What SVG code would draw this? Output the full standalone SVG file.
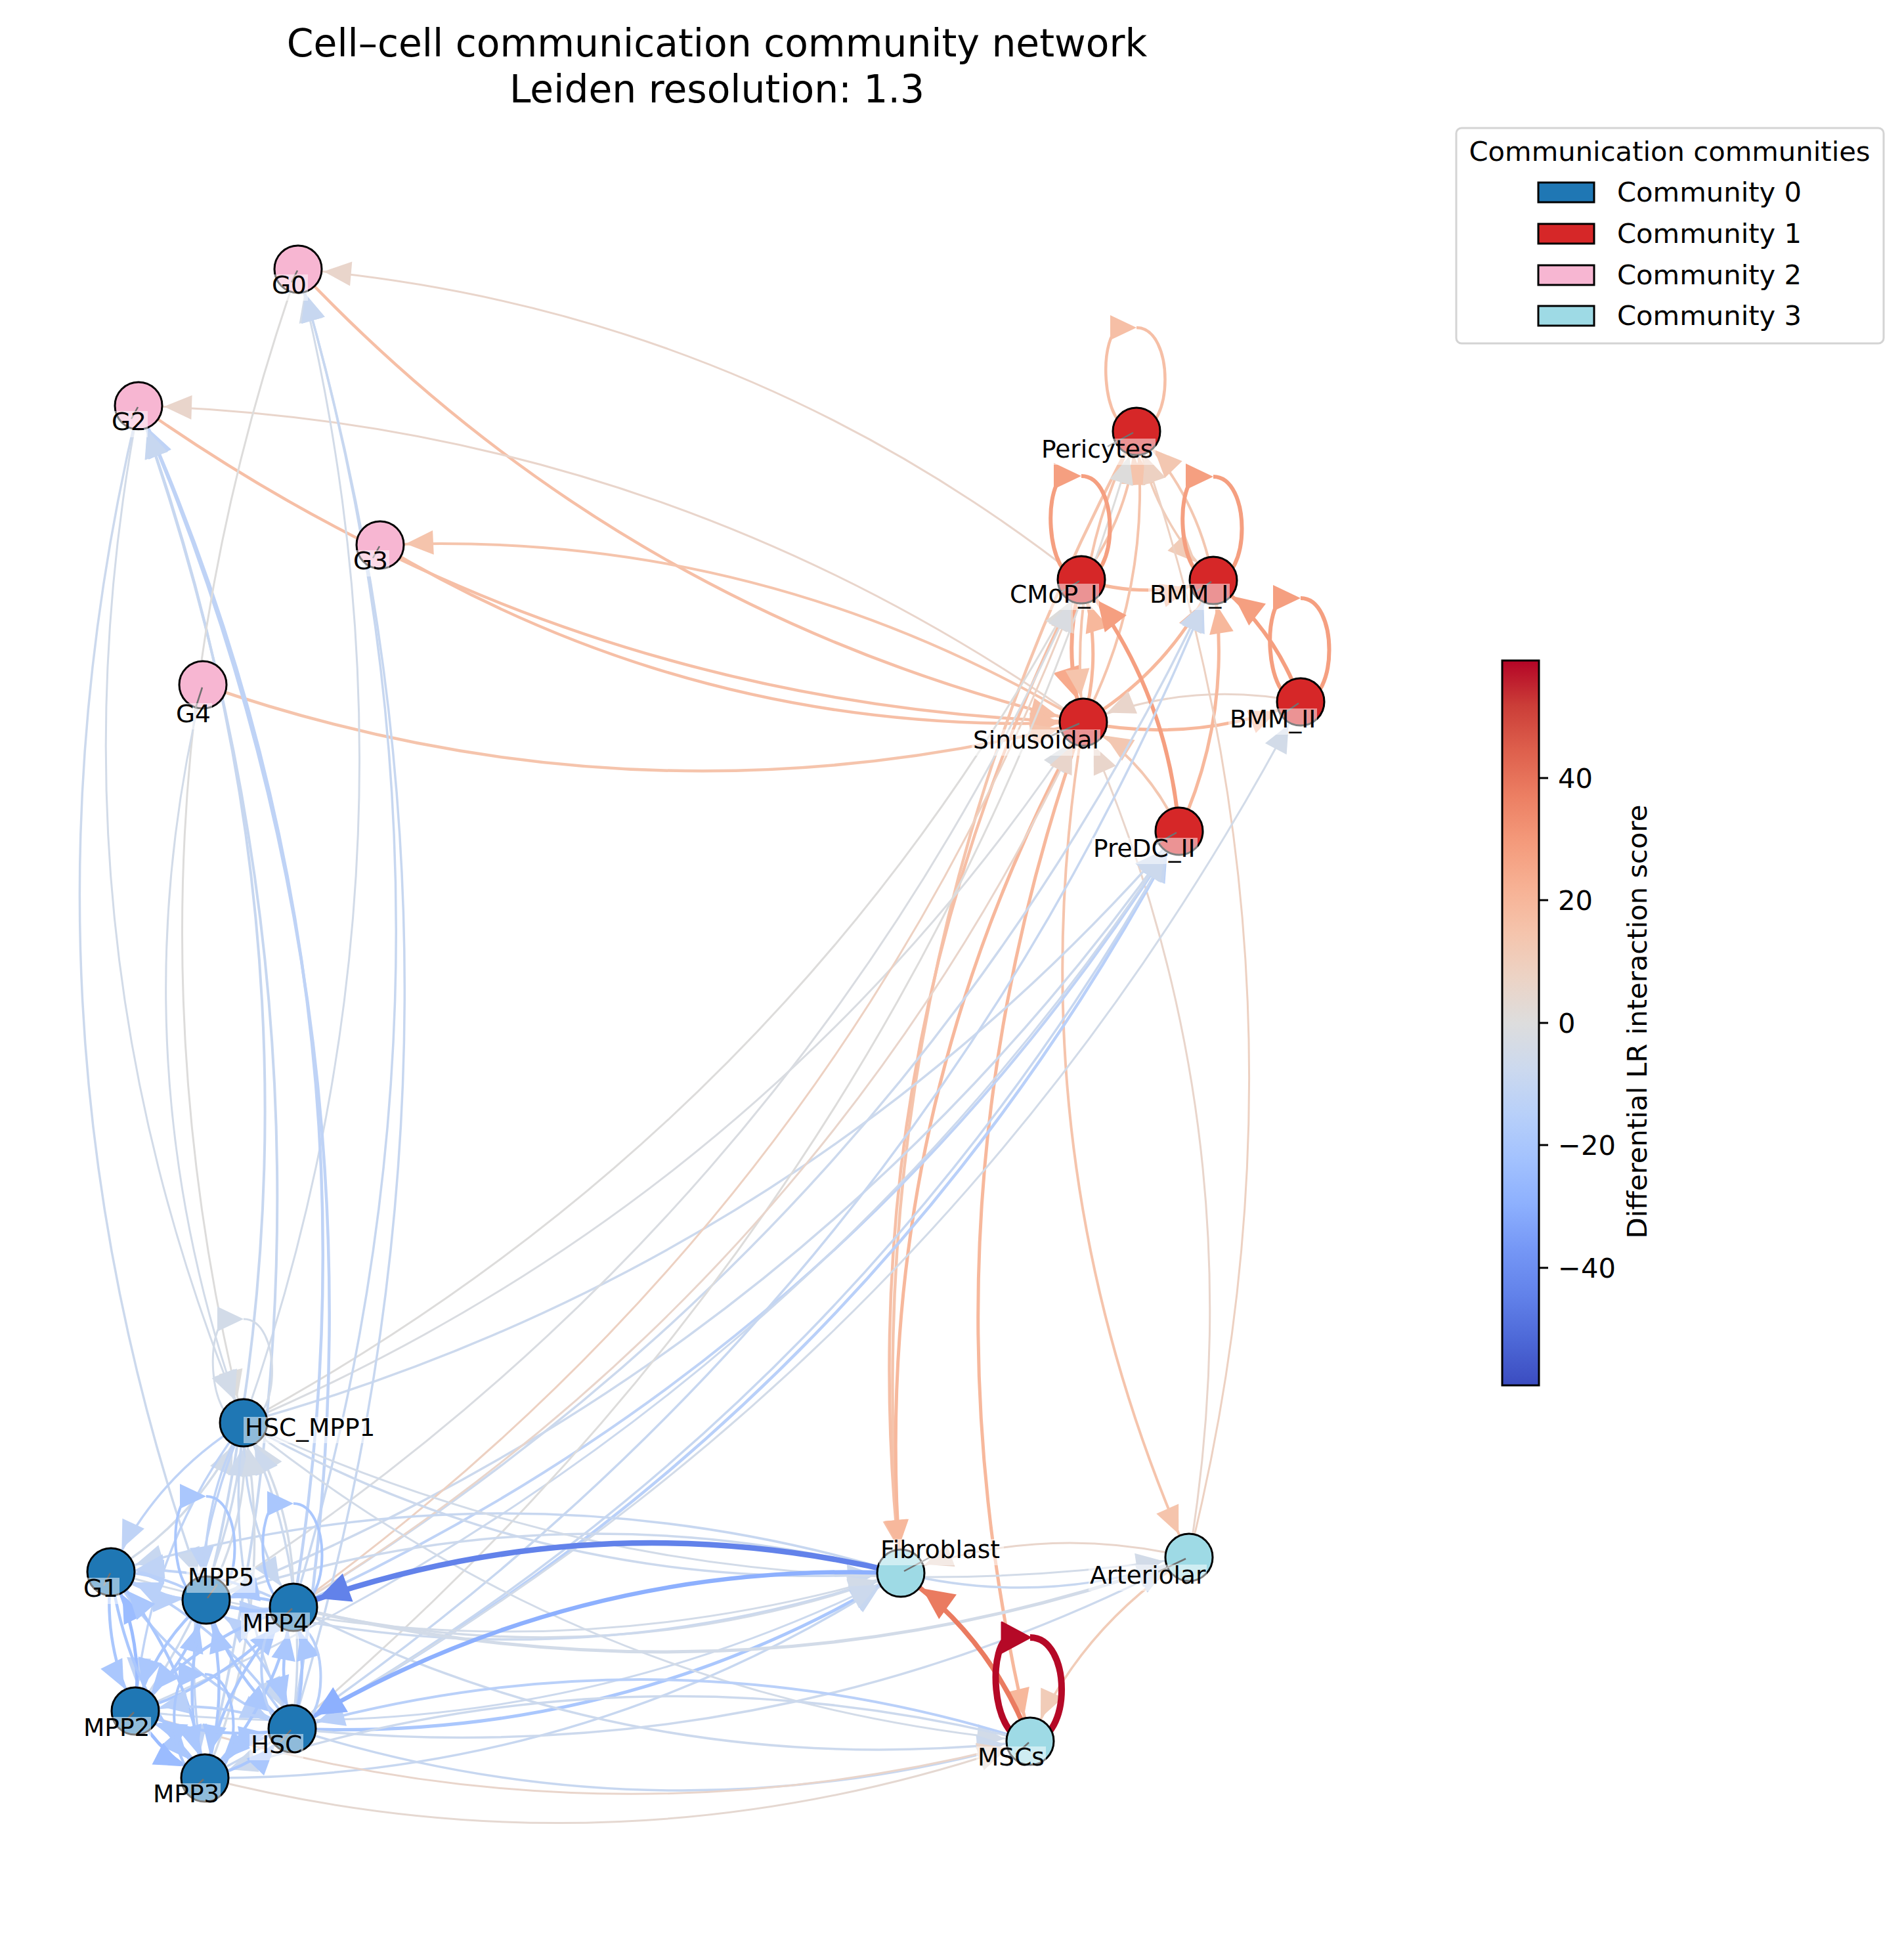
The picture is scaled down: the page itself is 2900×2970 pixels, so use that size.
<svg xmlns="http://www.w3.org/2000/svg" width="2900" height="2970" viewBox="0 0 2900 2970">
<style>
text{font-family:"DejaVu Sans","Liberation Sans",sans-serif;fill:#000}
.lb{font-size:37.5px}
.e{fill:none}
.nd{stroke:#000;stroke-width:3}
.c0{fill:#1f77b4}.c1{fill:#d62728}.c2{fill:#f7b6d2}.c3{fill:#9edae5}
.bb{fill:#fff;fill-opacity:0.5}
.ld{stroke:#707070;stroke-width:2.5}
.n45{stroke:#6282ea;marker-end:url(#mn45)}
.n30{stroke:#8db0fe;marker-end:url(#mn30)}
.n25{stroke:#9bbcff;marker-end:url(#mn25)}
.n20{stroke:#aac7fd;marker-end:url(#mn20)}
.n15{stroke:#b9d0f9;marker-end:url(#mn15)}
.n12{stroke:#bfd3f6;marker-end:url(#mn12)}
.n10{stroke:#c7d7f0;marker-end:url(#mn10)}
.n8{stroke:#ccd9ed;marker-end:url(#mn8)}
.n5{stroke:#d2dbe8;marker-end:url(#mn5)}
.n2{stroke:#d9dce1;marker-end:url(#mn2)}
.z0{stroke:#dddcdb;marker-end:url(#mz0)}
.p3{stroke:#e5d8d1;marker-end:url(#mp3)}
.p5{stroke:#e9d5cb;marker-end:url(#mp5)}
.p8{stroke:#edd1c2;marker-end:url(#mp8)}
.p10{stroke:#f1ccb8;marker-end:url(#mp10)}
.p12{stroke:#f3c7b1;marker-end:url(#mp12)}
.p15{stroke:#f5c4ac;marker-end:url(#mp15)}
.p17{stroke:#f6bfa6;marker-end:url(#mp17)}
.p20{stroke:#f7b89c;marker-end:url(#mp20)}
.p25{stroke:#f7aa8c;marker-end:url(#mp25)}
.p28{stroke:#f59f80;marker-end:url(#mp28)}
.p38{stroke:#ea7b60;marker-end:url(#mp38)}
.lp{fill:none}
</style>
<defs>
<marker id="mn45" markerUnits="userSpaceOnUse" markerWidth="120" markerHeight="60" refX="110" refY="30" orient="auto"><path d="M70,30 L22,7 L22,53 Z" fill="#6282ea"/></marker>
<marker id="mn30" markerUnits="userSpaceOnUse" markerWidth="120" markerHeight="60" refX="110" refY="30" orient="auto"><path d="M70,30 L24,8 L24,52 Z" fill="#8db0fe"/></marker>
<marker id="mn25" markerUnits="userSpaceOnUse" markerWidth="120" markerHeight="60" refX="110" refY="30" orient="auto"><path d="M71,30 L29,11.5 L29,48.5 Z" fill="#9bbcff"/></marker>
<marker id="mn20" markerUnits="userSpaceOnUse" markerWidth="120" markerHeight="60" refX="110" refY="30" orient="auto"><path d="M71,30 L29,11.5 L29,48.5 Z" fill="#aac7fd"/></marker>
<marker id="mn15" markerUnits="userSpaceOnUse" markerWidth="120" markerHeight="60" refX="110" refY="30" orient="auto"><path d="M71,30 L29,11.5 L29,48.5 Z" fill="#b9d0f9"/></marker>
<marker id="mn12" markerUnits="userSpaceOnUse" markerWidth="120" markerHeight="60" refX="110" refY="30" orient="auto"><path d="M71,30 L29,11.5 L29,48.5 Z" fill="#bfd3f6"/></marker>
<marker id="mn10" markerUnits="userSpaceOnUse" markerWidth="120" markerHeight="60" refX="110" refY="30" orient="auto"><path d="M71,30 L29,11.5 L29,48.5 Z" fill="#c7d7f0"/></marker>
<marker id="mn8" markerUnits="userSpaceOnUse" markerWidth="120" markerHeight="60" refX="110" refY="30" orient="auto"><path d="M71,30 L29,11.5 L29,48.5 Z" fill="#ccd9ed"/></marker>
<marker id="mn5" markerUnits="userSpaceOnUse" markerWidth="120" markerHeight="60" refX="110" refY="30" orient="auto"><path d="M71,30 L29,11.5 L29,48.5 Z" fill="#d2dbe8"/></marker>
<marker id="mn2" markerUnits="userSpaceOnUse" markerWidth="120" markerHeight="60" refX="110" refY="30" orient="auto"><path d="M71,30 L29,11.5 L29,48.5 Z" fill="#d9dce1"/></marker>
<marker id="mz0" markerUnits="userSpaceOnUse" markerWidth="120" markerHeight="60" refX="110" refY="30" orient="auto"><path d="M71,30 L29,11.5 L29,48.5 Z" fill="#dddcdb"/></marker>
<marker id="mp3" markerUnits="userSpaceOnUse" markerWidth="120" markerHeight="60" refX="110" refY="30" orient="auto"><path d="M71,30 L29,11.5 L29,48.5 Z" fill="#e5d8d1"/></marker>
<marker id="mp5" markerUnits="userSpaceOnUse" markerWidth="120" markerHeight="60" refX="110" refY="30" orient="auto"><path d="M71,30 L29,11.5 L29,48.5 Z" fill="#e9d5cb"/></marker>
<marker id="mp8" markerUnits="userSpaceOnUse" markerWidth="120" markerHeight="60" refX="110" refY="30" orient="auto"><path d="M71,30 L29,11.5 L29,48.5 Z" fill="#edd1c2"/></marker>
<marker id="mp10" markerUnits="userSpaceOnUse" markerWidth="120" markerHeight="60" refX="110" refY="30" orient="auto"><path d="M71,30 L29,11.5 L29,48.5 Z" fill="#f1ccb8"/></marker>
<marker id="mp12" markerUnits="userSpaceOnUse" markerWidth="120" markerHeight="60" refX="110" refY="30" orient="auto"><path d="M71,30 L29,11.5 L29,48.5 Z" fill="#f3c7b1"/></marker>
<marker id="mp15" markerUnits="userSpaceOnUse" markerWidth="120" markerHeight="60" refX="110" refY="30" orient="auto"><path d="M71,30 L29,11.5 L29,48.5 Z" fill="#f5c4ac"/></marker>
<marker id="mp17" markerUnits="userSpaceOnUse" markerWidth="120" markerHeight="60" refX="110" refY="30" orient="auto"><path d="M71,30 L29,11.5 L29,48.5 Z" fill="#f6bfa6"/></marker>
<marker id="mp20" markerUnits="userSpaceOnUse" markerWidth="120" markerHeight="60" refX="110" refY="30" orient="auto"><path d="M71,30 L29,11.5 L29,48.5 Z" fill="#f7b89c"/></marker>
<marker id="mp25" markerUnits="userSpaceOnUse" markerWidth="120" markerHeight="60" refX="110" refY="30" orient="auto"><path d="M70,30 L25,9 L25,51 Z" fill="#f7aa8c"/></marker>
<marker id="mp28" markerUnits="userSpaceOnUse" markerWidth="120" markerHeight="60" refX="110" refY="30" orient="auto"><path d="M70,30 L25,9 L25,51 Z" fill="#f59f80"/></marker>
<marker id="mp38" markerUnits="userSpaceOnUse" markerWidth="120" markerHeight="60" refX="110" refY="30" orient="auto"><path d="M70,30 L22,7 L22,53 Z" fill="#ea7b60"/></marker>
<linearGradient id="cb" x1="0" y1="1" x2="0" y2="0">
<stop offset="0" stop-color="#3b4cc0"/><stop offset="0.0625" stop-color="#4d68d7"/><stop offset="0.125" stop-color="#6282ea"/><stop offset="0.1875" stop-color="#7597f6"/><stop offset="0.25" stop-color="#8db0fe"/><stop offset="0.3125" stop-color="#a3c2fe"/><stop offset="0.375" stop-color="#b8d0f9"/><stop offset="0.4375" stop-color="#ccd9ee"/><stop offset="0.5" stop-color="#dddddd"/><stop offset="0.5625" stop-color="#ecd3c5"/><stop offset="0.625" stop-color="#f5c4ac"/><stop offset="0.6875" stop-color="#f7b194"/><stop offset="0.75" stop-color="#f49a7b"/><stop offset="0.8125" stop-color="#ec7f63"/><stop offset="0.875" stop-color="#de604d"/><stop offset="0.9375" stop-color="#cb3e38"/><stop offset="1" stop-color="#b40426"/>
</linearGradient>
</defs>
<rect x="0" y="0" width="2900" height="2970" fill="#fff"/>
<g id="title">
<text x="1092" y="86" font-size="58.3" text-anchor="middle">Cell–cell communication community network</text>
<text x="1092" y="156" font-size="58.3" text-anchor="middle">Leiden resolution: 1.3</text>
</g>
<g id="edges">
<path class="e p5" stroke-width="3" d="M1647,883 Q1121,468 454,410"/>
<path class="e p17" stroke-width="4.5" d="M454,410 Q949,934 1650,1100"/>
<path class="e p5" stroke-width="3" d="M1650,1100 Q1003,643 211,618"/>
<path class="e p17" stroke-width="4.5" d="M211,618 Q858,1075 1650,1100"/>
<path class="e p15" stroke-width="4" d="M1650,1100 Q1155,804 579,830"/>
<path class="e p17" stroke-width="4.5" d="M579,830 Q1074,1126 1650,1100"/>
<path class="e p15" stroke-width="4.5" d="M309,1043 Q971,1273 1650,1100"/>
<path class="e p20" stroke-width="5" d="M1647,883 Q1747,914 1848,884"/>
<path class="e p25" stroke-width="6" d="M1647,883 Q1616,992 1650,1100"/>
<path class="e p20" stroke-width="5" d="M1650,1100 Q1681,991 1647,883"/>
<path class="e p15" stroke-width="4" d="M1650,1100 Q1757,891 1731,657"/>
<path class="e p15" stroke-width="4" d="M1731,657 Q1624,866 1650,1100"/>
<path class="e p15" stroke-width="4" d="M1647,883 Q1723,783 1731,657"/>
<path class="e p12" stroke-width="4" d="M1848,884 Q1824,753 1731,657"/>
<path class="e p10" stroke-width="3.5" d="M1731,657 Q1755,788 1848,884"/>
<path class="e p20" stroke-width="5" d="M1650,1100 Q1781,1022 1848,884"/>
<path class="e p5" stroke-width="3" d="M1981,1069 Q1811,1035 1650,1100"/>
<path class="e p20" stroke-width="5" d="M1650,1100 Q1820,1134 1981,1069"/>
<path class="e p28" stroke-width="6" d="M1981,1069 Q1942,957 1848,884"/>
<path class="e p20" stroke-width="5" d="M1796,1266 Q1879,1083 1848,884"/>
<path class="e p28" stroke-width="6" d="M1796,1266 Q1779,1052 1647,883"/>
<path class="e p12" stroke-width="4" d="M1796,1266 Q1748,1161 1650,1100"/>
<path class="e p15" stroke-width="4.5" d="M1731,657 Q1291,1473 1372,2396"/>
<path class="e p17" stroke-width="4.5" d="M1647,883 Q1283,1598 1372,2396"/>
<path class="e p20" stroke-width="5" d="M1650,1100 Q1317,1706 1372,2396"/>
<path class="e p20" stroke-width="5" d="M1650,1100 Q1377,1864 1569,2652"/>
<path class="e p15" stroke-width="4" d="M1650,1100 Q1540,1760 1811,2372"/>
<path class="e p8" stroke-width="3" d="M1811,2372 Q2028,1503 1731,657"/>
<path class="e p5" stroke-width="3" d="M1811,2372 Q1921,1712 1650,1100"/>
<path class="e n2" stroke-width="3" d="M371,2167 Q1171,1825 1650,1100"/>
<path class="e z0" stroke-width="3" d="M371,2167 Q1202,1716 1647,883"/>
<path class="e n8" stroke-width="3.5" d="M371,2167 Q1219,1930 1796,1266"/>
<path class="e n12" stroke-width="4" d="M447,2448 Q1299,2059 1796,1266"/>
<path class="e n15" stroke-width="4.5" d="M445,2633 Q1326,2152 1796,1266"/>
<path class="e n8" stroke-width="3.5" d="M314,2437 Q1231,2074 1796,1266"/>
<path class="e n10" stroke-width="3.5" d="M312,2708 Q1270,2210 1796,1266"/>
<path class="e n8" stroke-width="3" d="M206,2606 Q1202,2175 1796,1266"/>
<path class="e n10" stroke-width="3.5" d="M445,2633 Q1409,1969 1848,884"/>
<path class="e n8" stroke-width="3.5" d="M447,2448 Q1382,1876 1848,884"/>
<path class="e n5" stroke-width="3" d="M445,2633 Q1448,2081 1981,1069"/>
<path class="e z0" stroke-width="3" d="M445,2633 Q1384,1838 1731,657"/>
<path class="e p8" stroke-width="3" d="M447,2448 Q1282,1846 1647,883"/>
<path class="e p5" stroke-width="3" d="M447,2448 Q1251,1954 1650,1100"/>
<path class="e n2" stroke-width="3" d="M314,2437 Q1214,1860 1647,883"/>
<path class="e n5" stroke-width="3" d="M371,2167 Q676,1301 454,410"/>
<path class="e n10" stroke-width="3.5" d="M447,2448 Q756,1430 454,410"/>
<path class="e n10" stroke-width="3.5" d="M445,2633 Q783,1523 454,410"/>
<path class="e n10" stroke-width="4" d="M314,2437 Q535,1512 211,618"/>
<path class="e n12" stroke-width="4.5" d="M447,2448 Q604,1498 211,618"/>
<path class="e n12" stroke-width="4.5" d="M445,2633 Q630,1590 211,618"/>
<path class="e n10" stroke-width="4" d="M312,2708 Q575,1648 211,618"/>
<path class="e z0" stroke-width="3" d="M454,410 Q149,1276 371,2167"/>
<path class="e n5" stroke-width="3" d="M211,618 Q59,1417 371,2167"/>
<path class="e n8" stroke-width="3.5" d="M211,618 Q-10,1543 314,2437"/>
<path class="e n5" stroke-width="3" d="M309,1043 Q171,1614 371,2167"/>
<path class="e n5" stroke-width="3.5" d="M447,2448 Q917,2561 1372,2396"/>
<path class="e n20" stroke-width="5" d="M445,2633 Q944,2654 1372,2396"/>
<path class="e n8" stroke-width="3.5" d="M371,2167 Q837,2432 1372,2396"/>
<path class="e n8" stroke-width="3.5" d="M314,2437 Q849,2575 1372,2396"/>
<path class="e n5" stroke-width="3" d="M169,2394 Q770,2575 1372,2396"/>
<path class="e n10" stroke-width="3.5" d="M312,2708 Q889,2711 1372,2396"/>
<path class="e n8" stroke-width="3" d="M206,2606 Q821,2676 1372,2396"/>
<path class="e n10" stroke-width="3.5" d="M1372,2396 Q771,2215 169,2394"/>
<path class="e n8" stroke-width="3.5" d="M1372,2396 Q837,2258 314,2437"/>
<path class="e n10" stroke-width="3.5" d="M1372,2396 Q1595,2450 1811,2372"/>
<path class="e p5" stroke-width="3" d="M1811,2372 Q1588,2318 1372,2396"/>
<path class="e p10" stroke-width="3.5" d="M1811,2372 Q1648,2476 1569,2652"/>
<path class="e n5" stroke-width="5" d="M447,2448 Q1140,2615 1811,2372"/>
<path class="e n8" stroke-width="3.5" d="M445,2633 Q1167,2707 1811,2372"/>
<path class="e n5" stroke-width="3" d="M371,2167 Q1060,2486 1811,2372"/>
<path class="e n5" stroke-width="3" d="M371,2167 Q897,2589 1569,2652"/>
<path class="e n8" stroke-width="3.5" d="M447,2448 Q977,2718 1569,2652"/>
<path class="e n10" stroke-width="3.5" d="M445,2633 Q1004,2811 1569,2652"/>
<path class="e p3" stroke-width="3" d="M312,2708 Q949,2869 1569,2652"/>
<path class="e p5" stroke-width="3" d="M206,2606 Q881,2833 1569,2652"/>
<path class="e n15" stroke-width="4" d="M1569,2652 Q1010,2474 445,2633"/>
<path class="e n8" stroke-width="3.5" d="M1569,2652 Q932,2491 312,2708"/>
<path class="e n30" stroke-width="6.5" d="M1372,2396 Q873,2375 445,2633"/>
<path class="e n45" stroke-width="8.5" d="M1372,2396 Q902,2283 447,2448"/>
<path class="e p38" stroke-width="7.5" d="M1569,2652 Q1509,2494 1372,2396"/>
<path class="e n12" stroke-width="3.5" d="M371,2167 Q236,2250 169,2394"/>
<path class="e n5" stroke-width="3.5" d="M169,2394 Q304,2311 371,2167"/>
<path class="e n12" stroke-width="3.5" d="M371,2167 Q302,2293 314,2437"/>
<path class="e n5" stroke-width="3.5" d="M314,2437 Q383,2311 371,2167"/>
<path class="e n10" stroke-width="3.5" d="M371,2167 Q367,2319 447,2448"/>
<path class="e n5" stroke-width="3.5" d="M447,2448 Q451,2296 371,2167"/>
<path class="e n12" stroke-width="3.5" d="M371,2167 Q223,2362 206,2606"/>
<path class="e n8" stroke-width="3.5" d="M206,2606 Q354,2411 371,2167"/>
<path class="e n10" stroke-width="3.5" d="M371,2167 Q338,2411 445,2633"/>
<path class="e n8" stroke-width="3.5" d="M445,2633 Q478,2389 371,2167"/>
<path class="e n12" stroke-width="3.5" d="M371,2167 Q260,2429 312,2708"/>
<path class="e n5" stroke-width="3.5" d="M312,2708 Q423,2446 371,2167"/>
<path class="e n15" stroke-width="4" d="M169,2394 Q235,2437 314,2437"/>
<path class="e n15" stroke-width="4" d="M314,2437 Q248,2394 169,2394"/>
<path class="e n15" stroke-width="4" d="M169,2394 Q300,2463 447,2448"/>
<path class="e n12" stroke-width="4" d="M447,2448 Q316,2379 169,2394"/>
<path class="e n20" stroke-width="4.5" d="M169,2394 Q156,2506 206,2606"/>
<path class="e n25" stroke-width="5" d="M206,2606 Q219,2494 169,2394"/>
<path class="e n15" stroke-width="4" d="M169,2394 Q271,2555 445,2633"/>
<path class="e n15" stroke-width="4" d="M445,2633 Q343,2472 169,2394"/>
<path class="e n20" stroke-width="4.5" d="M169,2394 Q193,2572 312,2708"/>
<path class="e n20" stroke-width="4.5" d="M312,2708 Q288,2530 169,2394"/>
<path class="e n20" stroke-width="4.5" d="M314,2437 Q379,2462 447,2448"/>
<path class="e n20" stroke-width="4.5" d="M447,2448 Q382,2423 314,2437"/>
<path class="e n20" stroke-width="4.5" d="M314,2437 Q235,2505 206,2606"/>
<path class="e n20" stroke-width="4.5" d="M206,2606 Q285,2538 314,2437"/>
<path class="e n20" stroke-width="4.5" d="M314,2437 Q350,2555 445,2633"/>
<path class="e n15" stroke-width="4" d="M445,2633 Q409,2515 314,2437"/>
<path class="e n20" stroke-width="4.5" d="M314,2437 Q272,2572 312,2708"/>
<path class="e n20" stroke-width="4.5" d="M312,2708 Q354,2573 314,2437"/>
<path class="e n20" stroke-width="4.5" d="M447,2448 Q303,2491 206,2606"/>
<path class="e n20" stroke-width="4.5" d="M206,2606 Q350,2563 447,2448"/>
<path class="e n20" stroke-width="4.5" d="M447,2448 Q418,2540 445,2633"/>
<path class="e n20" stroke-width="4.5" d="M445,2633 Q474,2541 447,2448"/>
<path class="e n20" stroke-width="4.5" d="M447,2448 Q340,2558 312,2708"/>
<path class="e n20" stroke-width="4.5" d="M312,2708 Q418,2598 447,2448"/>
<path class="e n20" stroke-width="4.5" d="M206,2606 Q321,2655 445,2633"/>
<path class="e n15" stroke-width="4" d="M445,2633 Q330,2584 206,2606"/>
<path class="e n25" stroke-width="5" d="M206,2606 Q244,2673 312,2708"/>
<path class="e n20" stroke-width="4.5" d="M312,2708 Q274,2641 206,2606"/>
<path class="e n20" stroke-width="4.5" d="M445,2633 Q367,2651 312,2708"/>
<path class="e n20" stroke-width="4.5" d="M312,2708 Q390,2690 445,2633"/>
<g id="self-loops">
<path class="lp" stroke="#f6bfa6" stroke-width="4.5" d="M1731,499 C1789,499 1789,657 1731,657 C1673,657 1673,499 1709,499"/>
<polygon fill="#f6bfa6" points="1731,499 1691,480 1691,518"/>
<path class="lp" stroke="#f59f80" stroke-width="6" d="M1647,725 C1705,725 1705,883 1647,883 C1589,883 1589,725 1625,725"/>
<polygon fill="#f59f80" points="1647,725 1605,705 1605,745"/>
<path class="lp" stroke="#f59f80" stroke-width="6" d="M1848,726 C1906,726 1906,884 1848,884 C1790,884 1790,726 1826,726"/>
<polygon fill="#f59f80" points="1848,726 1806,706 1806,746"/>
<path class="lp" stroke="#f59f80" stroke-width="6" d="M1981,911 C2039,911 2039,1069 1981,1069 C1923,1069 1923,911 1959,911"/>
<polygon fill="#f59f80" points="1981,911 1939,891 1939,931"/>
<path class="lp" stroke="#b50927" stroke-width="10" d="M1569,2494 C1633,2494 1633,2652 1569,2652 C1505,2652 1505,2494 1540,2494"/>
<polygon fill="#b50927" stroke="#b50927" stroke-width="3" stroke-linejoin="round" points="1569,2494 1526,2471 1526,2517"/>
<path class="lp" stroke="#d2dbe8" stroke-width="3" d="M371,2009 C429,2009 429,2167 371,2167 C313,2167 313,2009 349,2009"/>
<polygon fill="#d2dbe8" points="371,2009 331,1990 331,2028"/>
<path class="lp" stroke="#aac7fd" stroke-width="4" d="M314,2279 C372,2279 372,2437 314,2437 C256,2437 256,2279 292,2279"/>
<polygon fill="#aac7fd" points="314,2279 274,2260 274,2298"/>
<path class="lp" stroke="#aac7fd" stroke-width="4" d="M447,2290 C505,2290 505,2448 447,2448 C389,2448 389,2290 425,2290"/>
<polygon fill="#aac7fd" points="447,2290 407,2271 407,2309"/>
<path class="lp" stroke="#b9d0f9" stroke-width="4" d="M445,2475 C503,2475 503,2633 445,2633 C387,2633 387,2475 423,2475"/>
<polygon fill="#b9d0f9" points="445,2475 405,2456 405,2494"/>
<path class="lp" stroke="#aac7fd" stroke-width="4" d="M312,2550 C370,2550 370,2708 312,2708 C254,2708 254,2550 290,2550"/>
<polygon fill="#aac7fd" points="312,2550 272,2531 272,2569"/>
</g>
</g>
<g id="nodes">
<g id="node-G0"><circle class="nd c2" cx="454" cy="410" r="36"/><line class="ld" x1="453" y1="412" x2="444" y2="430"/><rect class="bb" x="412" y="418" width="57" height="40"/><text class="lb" x="414" y="447">G0</text></g>
<g id="node-G2"><circle class="nd c2" cx="211" cy="618" r="36"/><line class="ld" x1="210" y1="620" x2="200" y2="638"/><rect class="bb" x="168" y="626" width="57" height="40"/><text class="lb" x="170" y="655">G2</text></g>
<g id="node-G3"><circle class="nd c2" cx="579" cy="830" r="36"/><line class="ld" x1="578" y1="832" x2="568" y2="850"/><rect class="bb" x="536" y="838" width="57" height="40"/><text class="lb" x="538" y="867">G3</text></g>
<g id="node-G4"><circle class="nd c2" cx="309" cy="1043" r="36"/><line class="ld" x1="308" y1="1047" x2="298" y2="1078"/><rect class="bb" x="266" y="1071" width="57" height="40"/><text class="lb" x="268" y="1100">G4</text></g>
<g id="node-Pericytes"><circle class="nd c1" cx="1731" cy="657" r="36"/><line class="ld" x1="1726" y1="659" x2="1687" y2="680"/><rect class="bb" x="1584" y="668" width="176" height="40"/><text class="lb" x="1586" y="697">Pericytes</text></g>
<g id="node-CMoP_I"><circle class="nd c1" cx="1647" cy="883" r="36"/><line class="ld" x1="1644" y1="885" x2="1616" y2="902"/><rect class="bb" x="1536" y="889" width="138" height="40"/><text class="lb" x="1538" y="918">CMoP_I</text></g>
<g id="node-BMM_I"><circle class="nd c1" cx="1848" cy="884" r="36"/><line class="ld" x1="1845" y1="886" x2="1820" y2="902"/><rect class="bb" x="1749" y="889" width="124" height="40"/><text class="lb" x="1751" y="918">BMM_I</text></g>
<g id="node-BMM_II"><circle class="nd c1" cx="1981" cy="1069" r="36"/><line class="ld" x1="1978" y1="1071" x2="1949" y2="1091"/><rect class="bb" x="1871" y="1079" width="135" height="40"/><text class="lb" x="1873" y="1108">BMM_II</text></g>
<g id="node-Sinusoidal"><circle class="nd c1" cx="1650" cy="1100" r="36"/><line class="ld" x1="1644" y1="1102" x2="1596" y2="1123"/><rect class="bb" x="1480" y="1111" width="196" height="40"/><text class="lb" x="1482" y="1140">Sinusoidal</text></g>
<g id="node-PreDC_II"><circle class="nd c1" cx="1796" cy="1266" r="36"/><line class="ld" x1="1792" y1="1268" x2="1757" y2="1288"/><rect class="bb" x="1663" y="1276" width="161" height="40"/><text class="lb" x="1665" y="1305">PreDC_II</text></g>
<g id="node-HSC_MPP1"><circle class="nd c0" cx="371" cy="2167" r="36"/><rect class="bb" x="371" y="2158" width="202" height="40"/><text class="lb" x="373" y="2187">HSC_MPP1</text></g>
<g id="node-G1"><circle class="nd c0" cx="169" cy="2394" r="36"/><line class="ld" x1="168" y1="2396" x2="158" y2="2415"/><rect class="bb" x="125" y="2403" width="57" height="40"/><text class="lb" x="127" y="2432">G1</text></g>
<g id="node-MPP5"><circle class="nd c0" cx="314" cy="2437" r="36"/><line class="ld" x1="316" y1="2434" x2="331" y2="2413"/><rect class="bb" x="284" y="2386" width="105" height="40"/><text class="lb" x="286" y="2415">MPP5</text></g>
<g id="node-MPP4"><circle class="nd c0" cx="447" cy="2448" r="36"/><line class="ld" x1="445" y1="2450" x2="426" y2="2468"/><rect class="bb" x="367" y="2456" width="105" height="40"/><text class="lb" x="369" y="2485">MPP4</text></g>
<g id="node-MPP2"><circle class="nd c0" cx="206" cy="2606" r="36"/><line class="ld" x1="204" y1="2608" x2="185" y2="2627"/><rect class="bb" x="125" y="2615" width="105" height="40"/><text class="lb" x="127" y="2644">MPP2</text></g>
<g id="node-HSC"><circle class="nd c0" cx="445" cy="2633" r="36"/><line class="ld" x1="443" y1="2635" x2="427" y2="2653"/><rect class="bb" x="380" y="2641" width="82" height="40"/><text class="lb" x="382" y="2670">HSC</text></g>
<g id="node-MPP3"><circle class="nd c0" cx="312" cy="2708" r="36"/><line class="ld" x1="310" y1="2710" x2="291" y2="2728"/><rect class="bb" x="231" y="2716" width="105" height="40"/><text class="lb" x="233" y="2745">MPP3</text></g>
<g id="node-Fibroblast"><circle class="nd c3" cx="1372" cy="2396" r="36"/><line class="ld" x1="1377" y1="2393" x2="1418" y2="2371"/><rect class="bb" x="1339" y="2344" width="190" height="40"/><text class="lb" x="1341" y="2373">Fibroblast</text></g>
<g id="node-Arteriolar"><circle class="nd c3" cx="1811" cy="2372" r="36"/><line class="ld" x1="1806" y1="2374" x2="1764" y2="2394"/><rect class="bb" x="1658" y="2383" width="180" height="40"/><text class="lb" x="1660" y="2412">Arteriolar</text></g>
<g id="node-MSCs"><circle class="nd c3" cx="1569" cy="2652" r="36"/><line class="ld" x1="1567" y1="2654" x2="1547" y2="2672"/><rect class="bb" x="1487" y="2660" width="106" height="40"/><text class="lb" x="1489" y="2689">MSCs</text></g>
</g>
<g id="legend">
<rect x="2218" y="195" width="651" height="328" rx="8" fill="#fff" fill-opacity="0.8" stroke="#d4d4d4" stroke-width="3"/>
<text x="2543" y="245" font-size="41.7" text-anchor="middle">Communication communities</text>
<rect x="2343" y="278" width="85" height="30" class="c0" stroke="#000" stroke-width="3"/>
<text x="2463" y="307" font-size="41.7">Community 0</text>
<rect x="2343" y="341" width="85" height="30" class="c1" stroke="#000" stroke-width="3"/>
<text x="2463" y="370" font-size="41.7">Community 1</text>
<rect x="2343" y="404" width="85" height="30" class="c2" stroke="#000" stroke-width="3"/>
<text x="2463" y="433" font-size="41.7">Community 2</text>
<rect x="2343" y="466" width="85" height="30" class="c3" stroke="#000" stroke-width="3"/>
<text x="2463" y="495" font-size="41.7">Community 3</text>
</g>
<g id="colorbar">
<rect x="2288" y="1006" width="56" height="1104" fill="url(#cb)" stroke="#000" stroke-width="3"/>
<g stroke="#000" stroke-width="3">
<line x1="2344" y1="1185" x2="2358" y2="1185"/>
<line x1="2344" y1="1371" x2="2358" y2="1371"/>
<line x1="2344" y1="1558" x2="2358" y2="1558"/>
<line x1="2344" y1="1744" x2="2358" y2="1744"/>
<line x1="2344" y1="1931" x2="2358" y2="1931"/>
</g>
<g font-size="41.7">
<text x="2373" y="1200">40</text>
<text x="2373" y="1386">20</text>
<text x="2373" y="1573">0</text>
<text x="2373" y="1759">−20</text>
<text x="2373" y="1946">−40</text>
</g>
<text font-size="41.7" text-anchor="middle" transform="translate(2508,1556) rotate(-90)">Differential LR interaction score</text>
</g>
</svg>
